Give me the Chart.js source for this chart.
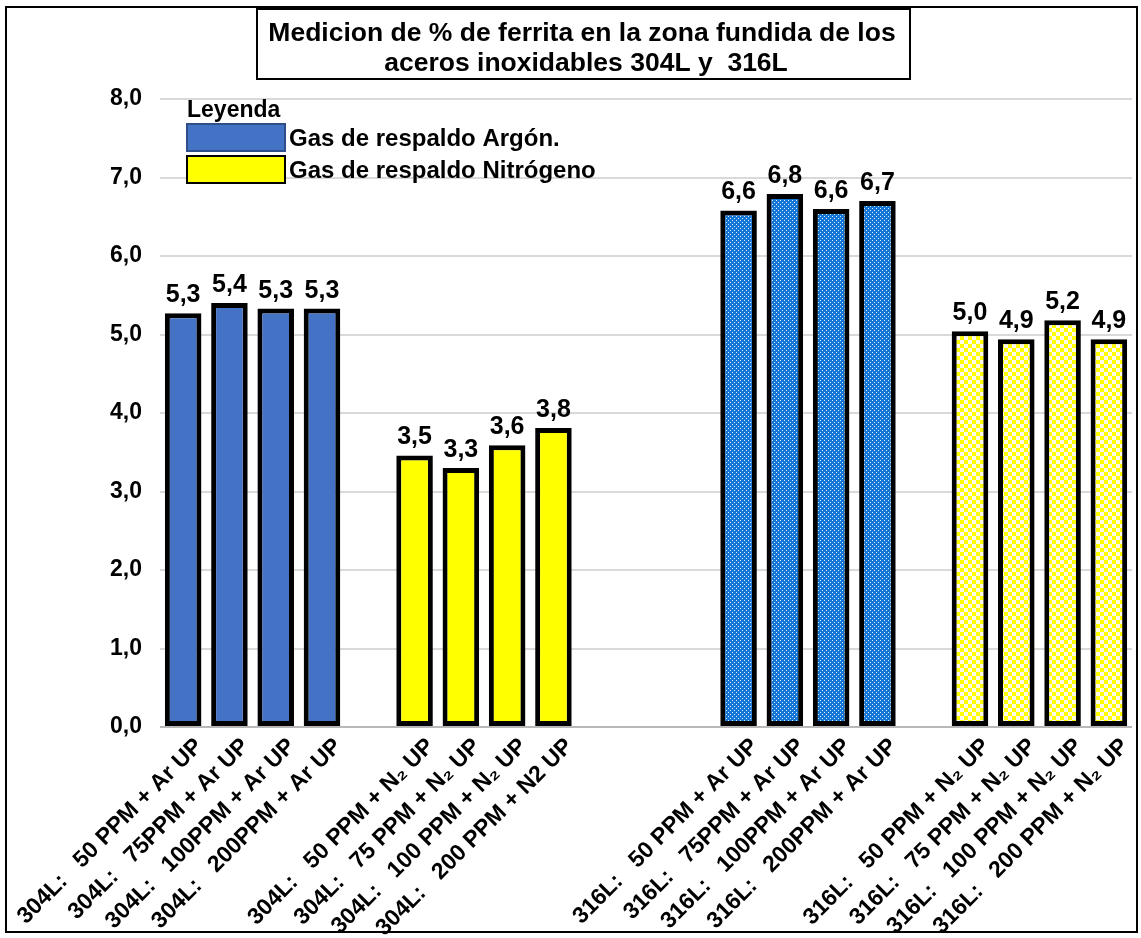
<!DOCTYPE html>
<html>
<head>
<meta charset="utf-8">
<script src="https://cdn.jsdelivr.net/npm/chart.js@4/dist/chart.umd.min.js"></script>
<style>
  html, body { margin: 0; padding: 0; background: #ffffff; }
  #chart { display: block; }
</style>
</head>
<body>
<canvas id="chart" width="1141" height="938"></canvas>
<script>
// Category labels for each group of bars
const labels304Ar = ['304L:   50 PPM + Ar UP', '304L:   75PPM + Ar UP', '304L:   100PPM + Ar UP', '304L:   200PPM + Ar UP'];
const labels304N2 = ['304L:   50 PPM + N\u2082 UP', '304L:   75 PPM + N\u2082 UP', '304L:   100 PPM + N\u2082 UP', '304L:   200 PPM + N2 UP'];
const labels316Ar = ['316L:   50 PPM + Ar UP', '316L:   75PPM + Ar UP', '316L:   100PPM + Ar UP', '316L:   200PPM + Ar UP'];
const labels316N2 = ['316L:   50 PPM + N\u2082 UP', '316L:   75 PPM + N\u2082 UP', '316L:   100 PPM + N\u2082 UP', '316L:   200 PPM + N\u2082 UP'];

// % ferrite measured in the fusion zone
const ferrite304Ar = [5.27, 5.40, 5.33, 5.33];
const ferrite304N2 = [3.46, 3.30, 3.59, 3.81];
const ferrite316Ar = [6.58, 6.79, 6.60, 6.70];
const ferrite316N2 = [5.04, 4.94, 5.18, 4.94];

// Y axis ticks
const yTicks = [0, 1, 2, 3, 4, 5, 6, 7, 8];

const titleLines = ['Medicion de % de ferrita en la zona fundida de los', 'aceros inoxidables 304L y  316L'];
const legendTitle = 'Leyenda';
const legendItems = ['Gas de respaldo Arg\u00f3n.', 'Gas de respaldo Nitr\u00f3geno'];

// Category slots: groups separated by empty slots
const categories = [...labels304Ar, '', ...labels304N2, '', '', '', ...labels316Ar, '', ...labels316N2];
const offsets = { a: 0, b: 5, c: 12, d: 17 };
function place(values, offset) {
  const arr = new Array(categories.length).fill(null);
  values.forEach((v, i) => { arr[offset + i] = v; });
  return arr;
}

const FONT = '"Liberation Sans", Arial, sans-serif';
const BLUE = '#4472C4';
const YELLOW = '#FFFF00';

// Fill patterns for the 316L bars
function dottedBlue() {
  const c = document.createElement('canvas');
  c.width = 4; c.height = 4;
  const g = c.getContext('2d');
  g.fillStyle = '#1676d6';
  g.fillRect(0, 0, 4, 4);
  g.fillStyle = '#d9eeff';
  g.fillRect(0, 0, 1, 1);
  g.fillRect(2, 2, 1, 1);
  return g.createPattern(c, 'repeat');
}
function checkerYellow() {
  const c = document.createElement('canvas');
  c.width = 8; c.height = 8;
  const g = c.getContext('2d');
  g.fillStyle = '#fffbe8';
  g.fillRect(0, 0, 8, 8);
  g.fillStyle = '#ffff00';
  g.fillRect(0, 0, 4, 4);
  g.fillRect(4, 4, 4, 4);
  return g.createPattern(c, 'repeat');
}

const fmt = v => v.toFixed(1).replace('.', ',');

const barCommon = {
  borderColor: '#000000',
  borderWidth: 5,
  borderSkipped: false,
  grouped: false,
  barPercentage: 0.79,
  categoryPercentage: 1.0
};

// Value labels above each bar
const valueLabels = {
  id: 'valueLabels',
  afterDatasetsDraw(chart) {
    const ctx = chart.ctx;
    ctx.save();
    ctx.font = 'bold 25px ' + FONT;
    ctx.fillStyle = '#000000';
    ctx.textAlign = 'center';
    ctx.textBaseline = 'alphabetic';
    chart.data.datasets.forEach((ds, di) => {
      const meta = chart.getDatasetMeta(di);
      meta.data.forEach((el, i) => {
        const v = ds.data[i];
        if (v === null || v === undefined) return;
        ctx.fillText(fmt(v), el.x, el.y - 11);
      });
    });
    ctx.restore();
  }
};

// Framed title, legend and outer border
const decorations = {
  id: 'decorations',
  beforeDraw(chart) {
    const ctx = chart.ctx;
    ctx.save();
    ctx.fillStyle = '#ffffff';
    ctx.fillRect(0, 0, chart.width, chart.height);
    ctx.restore();
  },
  afterDraw(chart) {
    const ctx = chart.ctx;
    ctx.save();
    // outer frame
    ctx.strokeStyle = '#000000';
    ctx.lineWidth = 2;
    ctx.strokeRect(6, 7, 1131, 925);

    // title box
    ctx.fillStyle = '#ffffff';
    ctx.fillRect(257, 9, 653, 70);
    ctx.strokeRect(257, 9, 653, 70);
    ctx.fillStyle = '#000000';
    ctx.font = 'bold 26.5px ' + FONT;
    ctx.textAlign = 'center';
    ctx.textBaseline = 'alphabetic';
    ctx.fillText(titleLines[0], 582, 41);
    ctx.fillText(titleLines[1], 586, 71);

    // legend
    ctx.textAlign = 'left';
    ctx.font = 'bold 23px ' + FONT;
    ctx.fillText(legendTitle, 187, 117);
    const fills = [BLUE, YELLOW];
    const strokes = ['#2f4f8a', '#000000'];
    ctx.font = 'bold 24px ' + FONT;
    legendItems.forEach((t, i) => {
      const y = 124 + i * 32;
      ctx.fillStyle = fills[i];
      ctx.fillRect(187, y, 98, 27);
      ctx.strokeStyle = strokes[i];
      ctx.lineWidth = 2;
      ctx.strokeRect(187, y, 98, 27);
      ctx.fillStyle = '#000000';
      ctx.fillText(t, 289, y + 22);
    });
    ctx.restore();
  }
};

const chart = new Chart(document.getElementById('chart'), {
  type: 'bar',
  data: {
    labels: categories,
    datasets: [
      { ...barCommon, label: legendItems[0], data: place(ferrite304Ar, offsets.a), backgroundColor: BLUE },
      { ...barCommon, label: legendItems[1], data: place(ferrite304N2, offsets.b), backgroundColor: YELLOW },
      { ...barCommon, label: legendItems[0], data: place(ferrite316Ar, offsets.c), backgroundColor: dottedBlue() },
      { ...barCommon, label: legendItems[1], data: place(ferrite316N2, offsets.d), backgroundColor: checkerYellow() }
    ]
  },
  options: {
    responsive: false,
    animation: false,
    devicePixelRatio: 1,
    layout: { padding: { left: 0, right: 9, top: 99, bottom: 0 } },
    plugins: {
      legend: { display: false },
      title: { display: false },
      tooltip: { enabled: false }
    },
    scales: {
      x: {
        grid: { display: false, drawTicks: false },
        border: { display: false },
        ticks: {
          autoSkip: false,
          maxRotation: 45,
          minRotation: 45,
          padding: 6,
          labelOffset: 16,
          color: '#000000',
          font: { family: FONT, size: 23, weight: 'bold' }
        },
        afterFit(scale) {
          scale.height = 211;
          scale.paddingLeft = 0;
          scale.paddingRight = 0;
        }
      },
      y: {
        min: 0,
        max: 8,
        afterBuildTicks(scale) { scale.ticks = yTicks.map(v => ({ value: v })); },
        grid: {
          drawTicks: false,
          lineWidth: 2,
          color: ctx => (ctx.tick && ctx.tick.value === 0) ? '#b8b8b8' : '#d9d9d9'
        },
        border: { display: false },
        ticks: {
          padding: 18,
          color: '#000000',
          font: { family: FONT, size: 23, weight: 'bold' },
          callback: v => fmt(v)
        },
        afterFit(scale) { scale.width = 160; }
      }
    }
  },
  plugins: [valueLabels, decorations]
});
</script>
</body>
</html>
